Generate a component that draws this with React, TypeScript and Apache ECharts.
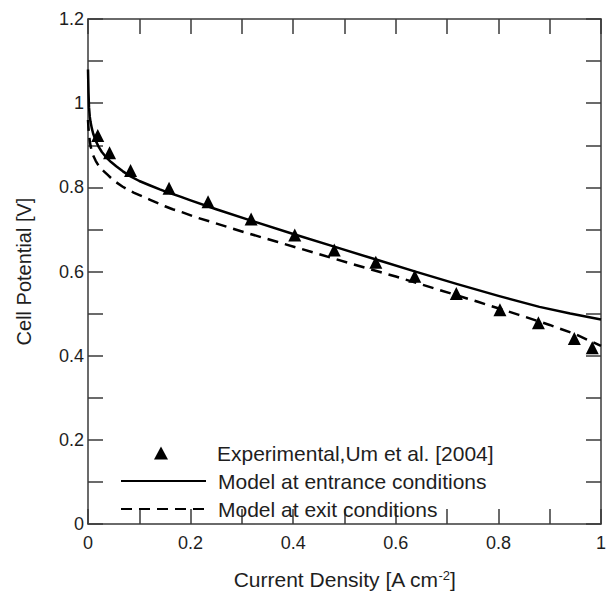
import React, { useEffect, useRef } from "react";
import * as echarts from "echarts";

const expX = [0.019, 0.042, 0.083, 0.158, 0.234, 0.318, 0.403, 0.48, 0.561, 0.637, 0.718, 0.803, 0.878, 0.948, 0.983];
const expY = [0.923, 0.882, 0.84, 0.798, 0.766, 0.725, 0.687, 0.651, 0.622, 0.589, 0.548, 0.509, 0.478, 0.441, 0.419];

const entX = [0, 0.001, 0.002, 0.0035, 0.005, 0.0075, 0.01, 0.015, 0.02, 0.027, 0.035, 0.045, 0.055, 0.068, 0.083, 0.1, 0.12, 0.14, 0.158, 0.18, 0.2, 0.25, 0.318, 0.4, 0.48, 0.56, 0.64, 0.72, 0.8, 0.88, 0.94, 1.0];
const entY = [1.08, 1.025, 0.99, 0.968, 0.955, 0.94, 0.928, 0.911, 0.898, 0.884, 0.872, 0.86, 0.85, 0.838, 0.826, 0.815, 0.805, 0.795, 0.787, 0.778, 0.769, 0.748, 0.721, 0.689, 0.659, 0.629, 0.599, 0.57, 0.542, 0.516, 0.5, 0.486];

const exitX = [0, 0.001, 0.002, 0.0035, 0.005, 0.0075, 0.01, 0.015, 0.02, 0.025, 0.031, 0.038, 0.045, 0.055, 0.067, 0.078, 0.09, 0.105, 0.12, 0.135, 0.15, 0.165, 0.183, 0.21, 0.24, 0.3, 0.37, 0.44, 0.52, 0.6, 0.68, 0.76, 0.84, 0.9, 0.95, 1.0];
const exitY = [0.96, 0.94, 0.925, 0.91, 0.898, 0.886, 0.876, 0.863, 0.853, 0.845, 0.838, 0.83, 0.822, 0.812, 0.802, 0.794, 0.787, 0.779, 0.771, 0.763, 0.755, 0.748, 0.741, 0.729, 0.718, 0.695, 0.67, 0.645, 0.616, 0.588, 0.558, 0.528, 0.497, 0.473, 0.451, 0.423];

const seriesNames = [
  "Experimental,Um et al. [2004]",
  "Model at entrance conditions",
  "Model at exit conditions",
];

const xTitle = "Current Density [A cm{sup|-2}]";
const yTitle = "Cell Potential [V]";

const FONT = "'Liberation Sans', Arial, Helvetica, sans-serif";
const AXIS_COLOR = "#3a3a3a";
const TEXT_COLOR = "#1e1e1e";

const zip = (xs: number[], ys: number[]) => xs.map((x, i) => [x, ys[i]]);

const fmt = (v: number) => (Math.round(v * 10) % 2 === 0 ? String(+v.toFixed(1)) : "");

export default function App() {
  const ref = useRef<HTMLDivElement>(null);
  useEffect(() => {
    document.body.style.margin = "0";
    if (!ref.current) return;
    const chart = echarts.init(ref.current, null, { renderer: "svg" });
    const axisLine = { show: true, onZero: false, lineStyle: { color: AXIS_COLOR, width: 1.5 } };
    const tick = (len: number) => ({ show: true, inside: true, length: len, lineStyle: { color: AXIS_COLOR, width: 1.5 } });
    const legendText = { fontSize: 21, color: TEXT_COLOR, lineHeight: 22, fontFamily: FONT };
    chart.setOption({
      animation: false,
      backgroundColor: "#fff",
      textStyle: { fontFamily: FONT },
      grid: { left: 88, top: 19, right: 8, bottom: 63, containLabel: false },
      xAxis: [
        {
          type: "value",
          position: "bottom",
          min: 0,
          max: 1,
          interval: 0.1,
          axisLine,
          axisTick: tick(15),
          splitLine: { show: false },
          axisLabel: { formatter: fmt, fontSize: 18, color: TEXT_COLOR, margin: 10, fontFamily: FONT },
          name: xTitle,
          nameLocation: "middle",
          nameGap: 45,
          nameTextStyle: {
            fontSize: 21,
            color: TEXT_COLOR,
            fontFamily: FONT,
            rich: { sup: { fontSize: 13, verticalAlign: "top", lineHeight: 14, color: TEXT_COLOR, fontFamily: FONT } },
          },
        },
        {
          type: "value",
          position: "top",
          min: 0,
          max: 1,
          interval: 0.1,
          axisLine,
          axisTick: tick(15),
          splitLine: { show: false },
          axisLabel: { show: false },
        },
      ],
      yAxis: [
        {
          type: "value",
          position: "left",
          min: 0,
          max: 1.2,
          interval: 0.1,
          axisLine,
          axisTick: tick(15),
          splitLine: { show: false },
          axisLabel: { formatter: fmt, fontSize: 18, color: TEXT_COLOR, margin: 4, fontFamily: FONT },
          name: yTitle,
          nameLocation: "middle",
          nameGap: 54,
          nameRotate: 90,
          nameTextStyle: { fontSize: 20, color: TEXT_COLOR, fontFamily: FONT },
        },
        {
          type: "value",
          position: "right",
          min: 0,
          max: 1.2,
          interval: 0.1,
          axisLine,
          axisTick: tick(15),
          splitLine: { show: false },
          axisLabel: { show: false },
        },
      ],
      legend: [
        {
          orient: "vertical",
          left: 154,
          top: 442,
          padding: 0,
          itemWidth: 14,
          itemHeight: 13,
          textStyle: { ...legendText, padding: [0, 0, 0, 44] },
          data: [{ name: seriesNames[0], icon: "triangle" }],
        },
        {
          orient: "vertical",
          left: 120,
          top: 470,
          padding: 0,
          itemWidth: 85,
          itemHeight: 13,
          itemGap: 6,
          textStyle: { ...legendText, padding: [0, 0, 0, 7] },
          data: [{ name: seriesNames[1] }, { name: seriesNames[2] }],
        },
      ],
      series: [
        {
          name: seriesNames[0],
          type: "scatter",
          data: zip(expX, expY),
          symbol: "triangle",
          symbolSize: 13,
          itemStyle: { color: "#000", opacity: 1 },
          z: 3,
        },
        {
          name: seriesNames[1],
          type: "line",
          data: zip(entX, entY),
          showSymbol: false,
          symbol: "none",
          smooth: false,
          lineStyle: { color: "#000", width: 2.5, opacity: 1, join: "round" },
          itemStyle: { color: "#000", opacity: 0 },
        },
        {
          name: seriesNames[2],
          type: "line",
          data: zip(exitX, exitY),
          showSymbol: false,
          symbol: "none",
          smooth: false,
          lineStyle: { color: "#000", width: 2.5, type: [11, 7], opacity: 1, join: "round" },
          itemStyle: { color: "#000", opacity: 0 },
        },
      ],
    });
    return () => chart.dispose();
  }, []);
  return <div ref={ref} style={{ width: 609, height: 595 }} />;
}
